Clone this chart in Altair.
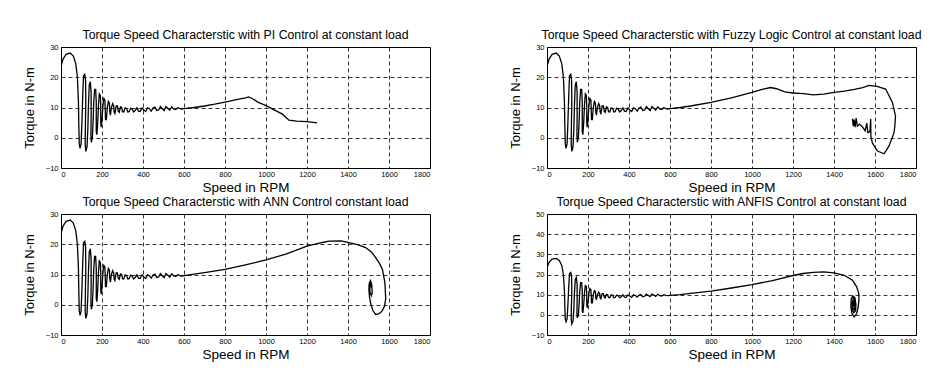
import altair as alt
import pandas as pd

FONT = "Liberation Sans"

# ---- shared start-up transient (speed in RPM, torque in N-m) ----
start_speed = [0, 10, 25, 45, 60, 72, 80, 85, 87, 89, 93, 98, 102, 106, 110, 116, 120, 121, 119, 118,
               121, 127, 131, 134, 138, 143, 147, 147, 146, 148, 153, 157, 160, 164, 169, 172, 172, 172,
               175, 179, 183, 187, 192, 194, 194, 196, 200, 205, 209, 214, 216, 217, 221, 226, 231, 236,
               238, 241, 246, 252, 257, 259, 263, 269, 275, 279, 284, 290, 296, 300, 306, 313, 320, 326,
               332, 340, 347, 354, 362, 370, 378, 386, 395, 404, 413, 422, 431, 440, 449, 458, 467, 476,
               485, 494, 503, 512, 521, 530, 540, 550, 560, 570, 580, 590, 600]
start_torque = [23.5, 26, 27.6, 28, 27, 24.5, 20, 12, 4, -2, -3.5, -2, 5, 14, 20.5, 21, 19, 12, 4, -2,
                -4.5, -3, 3, 11, 17.5, 18.5, 15, 7, 1, -1.5, 0, 6, 12, 16, 16, 12, 6, 2,
                1, 5, 11, 14.5, 14, 10, 5, 3.5, 6, 11, 13, 12.5, 9, 6, 6, 10, 12, 11.5,
                8.5, 7.5, 10, 11.3, 10.5, 8.5, 8, 10.5, 10.5, 8.8, 8.4, 10.2, 10, 8.6, 8.5, 9.9, 9.7, 8.5,
                8.6, 9.8, 9.5, 8.5, 9.0, 9.9, 8.8, 8.7, 9.9, 9.2, 8.7, 9.9, 9.6, 8.8, 9.8, 10.1, 9.0, 9.2,
                10.3, 9.6, 9.0, 10.3, 9.8, 9.1, 10.2, 9.5, 9.3, 10.0, 9.6, 9.5, 9.6]

# ---- PI control tail ----
pi_speed = [650, 700, 750, 800, 850, 900, 915, 935, 960, 1000, 1040, 1080, 1112, 1150, 1200, 1249]
pi_torque = [10.0, 10.5, 11.1, 11.8, 12.5, 13.2, 13.5, 12.9, 11.8, 10.6, 9.2, 7.8, 5.8, 5.5, 5.3, 4.9]

# ---- Fuzzy logic control tail ----
fz_speed = [650, 700, 800, 900, 1000, 1050, 1090, 1120, 1160, 1200, 1250, 1300, 1350, 1400, 1450, 1500,
            1540, 1571, 1610, 1652, 1685, 1700, 1697, 1693, 1668, 1644, 1612, 1587, 1580, 1579, 1575,
            1565, 1560, 1552, 1540, 1525, 1514, 1508, 1503, 1498, 1494, 1490]
fz_torque = [10.0, 10.5, 11.7, 13.2, 15.0, 16.0, 16.6, 16.2, 15.2, 14.8, 14.6, 14.2, 14.4, 15.0, 15.4, 16.0,
             16.6, 17.3, 17.0, 16.1, 11.7, 7.2, 4.0, 1.7, -2.8, -5.3, -4.4, -1.7, 0.5, 6.2, 2.0,
             1.7, 4.8, 2.3, 3.5, 4.5, 3.8, 6.5, 3.5, 6.0, 3.8, 6.3]

# ---- ANN control tail ----
ann_speed = [650, 700, 800, 900, 1000, 1100, 1200, 1270, 1307, 1366, 1400, 1450, 1486, 1515, 1535, 1555,
             1568, 1580, 1584, 1578, 1565, 1550, 1535, 1522, 1512, 1505, 1502, 1503, 1510, 1516, 1518,
             1514, 1508, 1505, 1509, 1514]
ann_torque = [10.1, 10.6, 11.7, 13.2, 14.8, 16.8, 19.4, 20.5, 21.0, 21.1, 20.6, 19.8, 18.9, 17.4, 15.6, 13.5,
              11.7, 7.3, 2.0, -0.5, -2.2, -3.0, -3.2, -2.0, 0.0, 2.5, 5.0, 7.0, 8.0, 6.5, 4.0,
              3.0, 4.0, 6.0, 7.3, 5.5]

# ---- ANFIS control tail ----
anfis_speed = [650, 700, 800, 900, 1000, 1100, 1200, 1250, 1300, 1350, 1400, 1450, 1490, 1510, 1520, 1522,
               1518, 1510, 1498, 1488, 1482, 1484, 1492, 1502, 1507, 1505, 1497, 1490, 1489, 1494, 1501,
               1503, 1499, 1493, 1494, 1499, 1500, 1496]
anfis_torque = [10.0, 10.6, 11.8, 13.3, 15.0, 17.0, 19.5, 20.5, 21.1, 21.3, 20.8, 19.6, 17.2, 14.0, 11.0, 8.0,
                3.9, 0.5, -1.0, 0.5, 4.0, 8.0, 9.3, 8.5, 5.0, 2.0, 1.0, 2.5, 6.0, 8.2, 7.5,
                4.5, 2.5, 3.5, 6.5, 7.0, 5.0, 4.5]

x_ticks = [0, 200, 400, 600, 800, 1000, 1200, 1400, 1600, 1800]
y_ticks_a = [-10, 0, 10, 20, 30]
y_ticks_b = [-10, 0, 10, 20, 30, 40, 50]

titles = [
    "Torque Speed Characterstic with PI Control at constant load",
    "Torque Speed Characterstic with Fuzzy Logic Control at constant load",
    "Torque Speed Characterstic with ANN Control constant load",
    "Torque Speed Characterstic with ANFIS Control at constant load",
]


def panel(title, tail_speed, tail_torque, y_dom, y_ticks):
    sp = start_speed + tail_speed
    tq = start_torque + tail_torque
    df = pd.DataFrame({"idx": list(range(len(sp))), "speed": sp, "torque": tq})
    return alt.Chart(df).mark_line(color="black", strokeWidth=1.3, clip=True).encode(
        x=alt.X("speed:Q", scale=alt.Scale(domain=[0, 1800], nice=False, zero=False),
                axis=alt.Axis(values=x_ticks, format="d", title="Speed in RPM", titleFontSize=13.5,
                              titlePadding=3, labelPadding=2)),
        y=alt.Y("torque:Q", scale=alt.Scale(domain=y_dom, nice=False, zero=False),
                axis=alt.Axis(values=y_ticks, format="d", title="Torque in N-m", titleFontSize=13,
                              titlePadding=9, labelPadding=3)),
        order=alt.Order("idx:Q"),
    ).properties(
        width=369, height=121,
        title=alt.TitleParams(title, fontSize=12.3, font=FONT, fontWeight="normal",
                              offset=2, color="black"),
    )


p1 = panel(titles[0], pi_speed, pi_torque, [-10, 30], y_ticks_a)
p2 = panel(titles[1], fz_speed, fz_torque, [-10, 30], y_ticks_a)
p3 = panel(titles[2], ann_speed, ann_torque, [-10, 30], y_ticks_a)
p4 = panel(titles[3], anfis_speed, anfis_torque, [-10, 50], y_ticks_b)

chart = alt.concat(
    p1, p2, p3, p4, columns=2, spacing={"row": 46, "column": 117}, bounds="flush"
).properties(
    padding={"left": 14, "top": 20, "right": 5, "bottom": 5},
    background="white",
).configure_view(
    stroke="black", strokeWidth=1
).configure_axis(
    labelFont=FONT, labelFontSize=7.5, labelColor="black",
    titleFont=FONT, titleFontWeight="normal", titleColor="black",
    grid=True, gridColor="black", gridDash=[4, 3], gridOpacity=1, gridWidth=0.8,
    domainColor="black", ticks=False,
)

chart.save("out.html", embed_options={"renderer": "svg", "actions": False})
